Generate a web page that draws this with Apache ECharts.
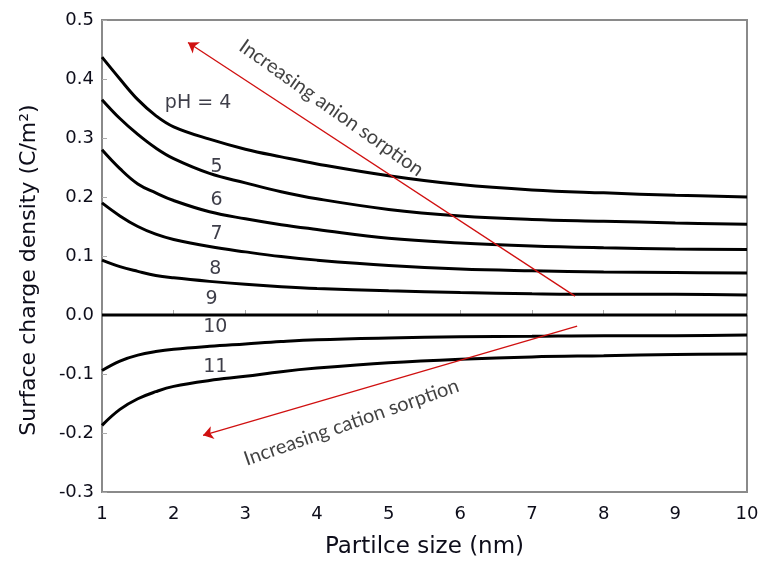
<!DOCTYPE html>
<html>
<head>
<meta charset="utf-8">
<script src="https://cdn.jsdelivr.net/npm/echarts@6/dist/echarts.min.js"></script>
<style>html,body{margin:0;padding:0;background:#fff}#c{width:764px;height:564px}</style>
</head>
<body>
<div id="c"></div>
<script>
const sizes = [1, 1.25, 1.5, 1.75, 2, 2.5, 3, 3.5, 4, 5, 6, 7, 8, 9, 10];
const pH4  = [0.437, 0.400, 0.365, 0.338, 0.319, 0.298, 0.281, 0.268, 0.256, 0.236, 0.221, 0.212, 0.207, 0.203, 0.200];
const pH5  = [0.365, 0.333, 0.306, 0.283, 0.265, 0.240, 0.224, 0.209, 0.197, 0.179, 0.168, 0.162, 0.159, 0.156, 0.154];
const pH6  = [0.280, 0.248, 0.222, 0.207, 0.194, 0.175, 0.163, 0.153, 0.145, 0.130, 0.122, 0.117, 0.114, 0.112, 0.111];
const pH7  = [0.190, 0.168, 0.150, 0.137, 0.128, 0.116, 0.107, 0.099, 0.093, 0.084, 0.078, 0.075, 0.073, 0.072, 0.071];
const pH8  = [0.093, 0.082, 0.074, 0.067, 0.063, 0.057, 0.052, 0.048, 0.045, 0.041, 0.038, 0.036, 0.035, 0.035, 0.034];
const pH9  = [0, 0, 0, 0, 0, 0, 0, 0, 0, 0, 0, 0, 0, 0, 0];
const pH10 = [-0.094, -0.078, -0.068, -0.062, -0.058, -0.053, -0.049, -0.045, -0.042, -0.039, -0.037, -0.036, -0.035, -0.035, -0.034];
const pH11 = [-0.187, -0.160, -0.142, -0.130, -0.121, -0.111, -0.104, -0.096, -0.090, -0.081, -0.075, -0.071, -0.069, -0.067, -0.066];

const curveLabels = ['pH = 4', '5', '6', '7', '8', '9', '10', '11'];
const curveLabelX = [2.34, 2.6, 2.6, 2.6, 2.58, 2.53, 2.58, 2.58];
const curveLabelY = [0.36, 0.25, 0.194, 0.138, 0.078, 0.027, -0.021, -0.088];

const arrowTexts = ['Increasing anion sorption', 'Increasing cation sorption'];
const arrowTextX = [4.2, 4.48];
const arrowTextY = [0.351, -0.182];
const arrowTextAngle = [-35.3, 19.3];
const arrowFrom = [[7.60, 0.032], [7.63, -0.019]];
const arrowTo = [[2.20, 0.462], [2.41, -0.204]];

const curves = [pH4, pH5, pH6, pH7, pH8, pH9, pH10, pH11];
const font = '"DejaVu Sans", Verdana, sans-serif';

const series = curves.map((vals, i) => ({
  type: 'line',
  data: sizes.map((x, j) => [x, vals[j]]),
  smooth: 0.4,
  showSymbol: false,
  lineStyle: { color: '#000', width: 3 },
  silent: true,
  z: 3
}));

series.push({
  type: 'scatter',
  symbolSize: 0,
  silent: true,
  data: curveLabels.map((t, i) => ({ value: [curveLabelX[i], curveLabelY[i]], name: t })),
  label: {
    show: true, position: 'inside', formatter: p => p.name,
    color: '#0d0d1a', fontSize: 19, fontFamily: font
  },
  z: 5
});

series.push({
  type: 'scatter',
  symbolSize: 0,
  silent: true,
  data: arrowTexts.map((t, i) => ({
    value: [arrowTextX[i], arrowTextY[i]], name: t,
    label: { rotate: arrowTextAngle[i] }
  })),
  label: {
    show: true, position: 'inside', formatter: p => p.name,
    color: '#111', fontSize: 20, fontFamily: 'Lato, "Open Sans", sans-serif'
  },
  z: 5
});

series.push({
  type: 'lines',
  coordinateSystem: 'cartesian2d',
  silent: true,
  symbol: ['none', 'arrow'],
  symbolSize: 10,
  lineStyle: { color: '#d01010', width: 1.3, opacity: 1 },
  data: arrowFrom.map((f, i) => ({ coords: [f, arrowTo[i]] })),
  z: 4
});

const chart = echarts.init(document.getElementById('c'), null, { renderer: 'canvas' });
chart.setOption({
  animation: false,
  backgroundColor: '#fff',
  grid: {
    left: 102, right: 17, top: 20, bottom: 70,
    show: true, borderColor: '#8a8a8a', borderWidth: 2, backgroundColor: 'transparent'
  },
  xAxis: {
    type: 'value', min: 1, max: 10, interval: 1,
    name: 'Partilce size (nm)', nameLocation: 'middle', nameGap: 44,
    nameTextStyle: { fontSize: 23, color: '#0d0d1a', fontFamily: font },
    axisLine: { show: true, lineStyle: { color: '#8a8a8a', width: 2 } },
    axisTick: { show: true, inside: true, length: 5, lineStyle: { color: '#aaa', width: 1 } },
    axisLabel: { fontSize: 18, color: '#0d0d1a', fontFamily: font, margin: 13 },
    splitLine: { show: false }
  },
  yAxis: {
    type: 'value', min: -0.3, max: 0.5, interval: 0.1,
    name: 'Surface charge density (C/m²)', nameLocation: 'middle', nameGap: 62,
    nameTextStyle: { fontSize: 22, color: '#0d0d1a', fontFamily: font, padding: [0, 28, 0, 0] },
    axisLine: { show: true, lineStyle: { color: '#8a8a8a', width: 2 } },
    axisTick: { show: true, inside: true, length: 5, lineStyle: { color: '#aaa', width: 1 } },
    axisLabel: { fontSize: 18, color: '#0d0d1a', fontFamily: font, margin: 8,
      formatter: v => (Math.round(v * 10) / 10).toFixed(1) },
    splitLine: { show: false }
  },
  series: series
});
</script>
</body>
</html>
